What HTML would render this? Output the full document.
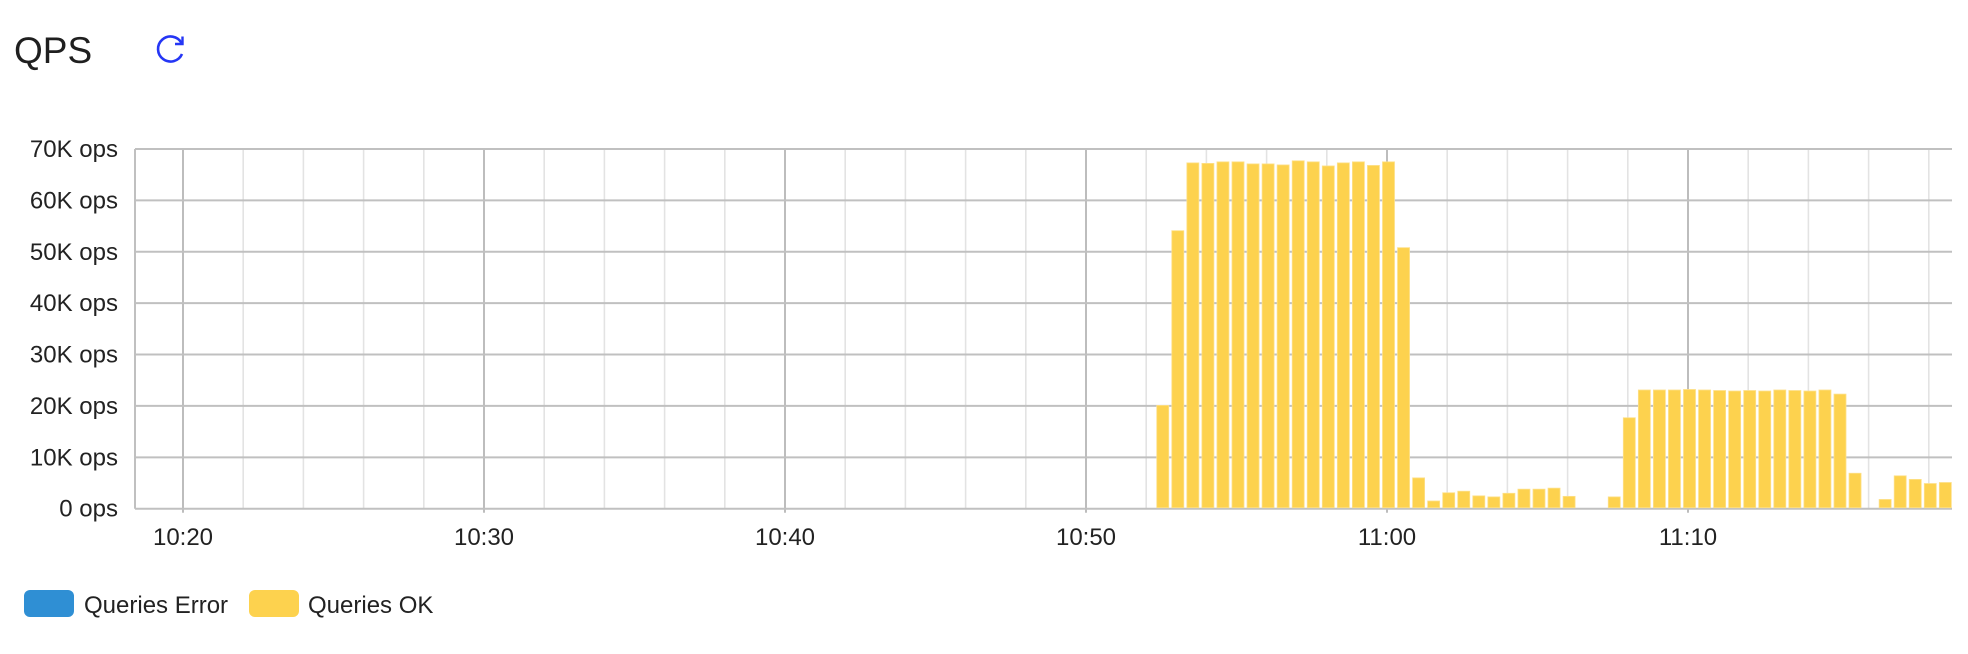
<!DOCTYPE html>
<html><head><meta charset="utf-8"><style>
html,body{margin:0;padding:0;background:#fff;width:1968px;height:654px;overflow:hidden}
svg{display:block;font-family:"Liberation Sans",sans-serif}
</style></head><body>
<svg id="chart" width="1968" height="654" viewBox="0 0 1968 654">
<text x="14" y="63" font-size="37" fill="#1f1f1f">QPS</text>
<g stroke="#2536f5" stroke-width="2.6" fill="none">
<path d="M181.5 43 A12.5 12.5 0 1 0 182 54"/>
<path d="M182.5 36.5 L182.5 44 L175 44" stroke-width="2.4"/>
</g>
<g id="grid"></g><g id="bars"></g><g id="axes"></g>
<g>
<rect x="24" y="590" width="50" height="27" rx="6" fill="#2f8fd4"/>
<text x="84" y="613" font-size="24" fill="#222">Queries Error</text>
<rect x="249" y="590" width="50" height="27" rx="6" fill="#fdd24e"/>
<text x="308" y="613" font-size="24" fill="#222">Queries OK</text>
</g>
</svg>
<script>
const yTicks=[0,10,20,30,40,50,60,70];
const yTickLabels=["0 ops","10K ops","20K ops","30K ops","40K ops","50K ops","60K ops","70K ops"];
const xTickMinutes=[0,10,20,30,40,50];
const xTickLabels=["10:20","10:30","10:40","10:50","11:00","11:10"];
// bar timestamps: minutes after 10:20
const barStart=32.5, barStep=0.5;
const okValues=[20.1,54.1,67.3,67.2,67.5,67.5,67.1,67.1,66.9,67.7,67.5,66.7,67.3,67.5,66.8,67.5,50.8,6.0,1.5,3.1,3.4,2.5,2.3,3.0,3.8,3.8,4.0,2.4,0,0,2.3,17.7,23.1,23.1,23.1,23.2,23.1,23.0,22.9,23.0,22.9,23.1,23.0,22.9,23.1,22.3,6.9,0,1.8,6.4,5.7,4.9,5.1];
const errValues=okValues.map(()=>0);

const L=135,R=1952,T=149,B=508.7;
const x=m=>183+m*30.1;
const y=v=>B-(v/70)*(B-T);
const NS="http://www.w3.org/2000/svg";
function mk(tag,attrs,parent){const e=document.createElementNS(NS,tag);for(const k in attrs)e.setAttribute(k,attrs[k]);parent.appendChild(e);return e;}
const grid=document.getElementById('grid'),bars=document.getElementById('bars'),axes=document.getElementById('axes');
for(let m=0;m<=58;m+=2){
  const major=m%10===0;
  const l=mk('line',{x1:x(m),x2:x(m),y1:T,y2:B+(major?4:0),stroke:major?'#bdbdbd':'#e3e3e3','stroke-width':major?2:1.6},grid);
  
  
}
yTicks.forEach((v,i)=>{
  const l=mk('line',{x1:L,x2:R,y1:y(v),y2:y(v),stroke:'#c0c0c0','stroke-width':2},grid);
  
  
  const t=mk('text',{x:118,y:y(v)+8,'text-anchor':'end','font-size':24,fill:'#222'},axes);
  t.textContent=yTickLabels[i];
  
  
});
const la=mk('line',{x1:L,x2:L,y1:T,y2:B,stroke:'#c0c0c0','stroke-width':2},axes);


xTickMinutes.forEach((m,i)=>{
  const t=mk('text',{x:x(m),y:545,'text-anchor':'middle','font-size':24,fill:'#222'},axes);
  t.textContent=xTickLabels[i];
  
  
});
okValues.forEach((v,i)=>{
  if(v<=0)return;
  const cx=x(barStart+i*barStep)+1.5;
  const left=cx-6, right=Math.min(cx+6,R);
  const r=mk('rect',{x:left,y:y(v),width:right-left,height:B-1-y(v),fill:'#fdd24e',stroke:'#fde08a','stroke-width':0.8},bars);
  
  
});
</script>
</body></html>
